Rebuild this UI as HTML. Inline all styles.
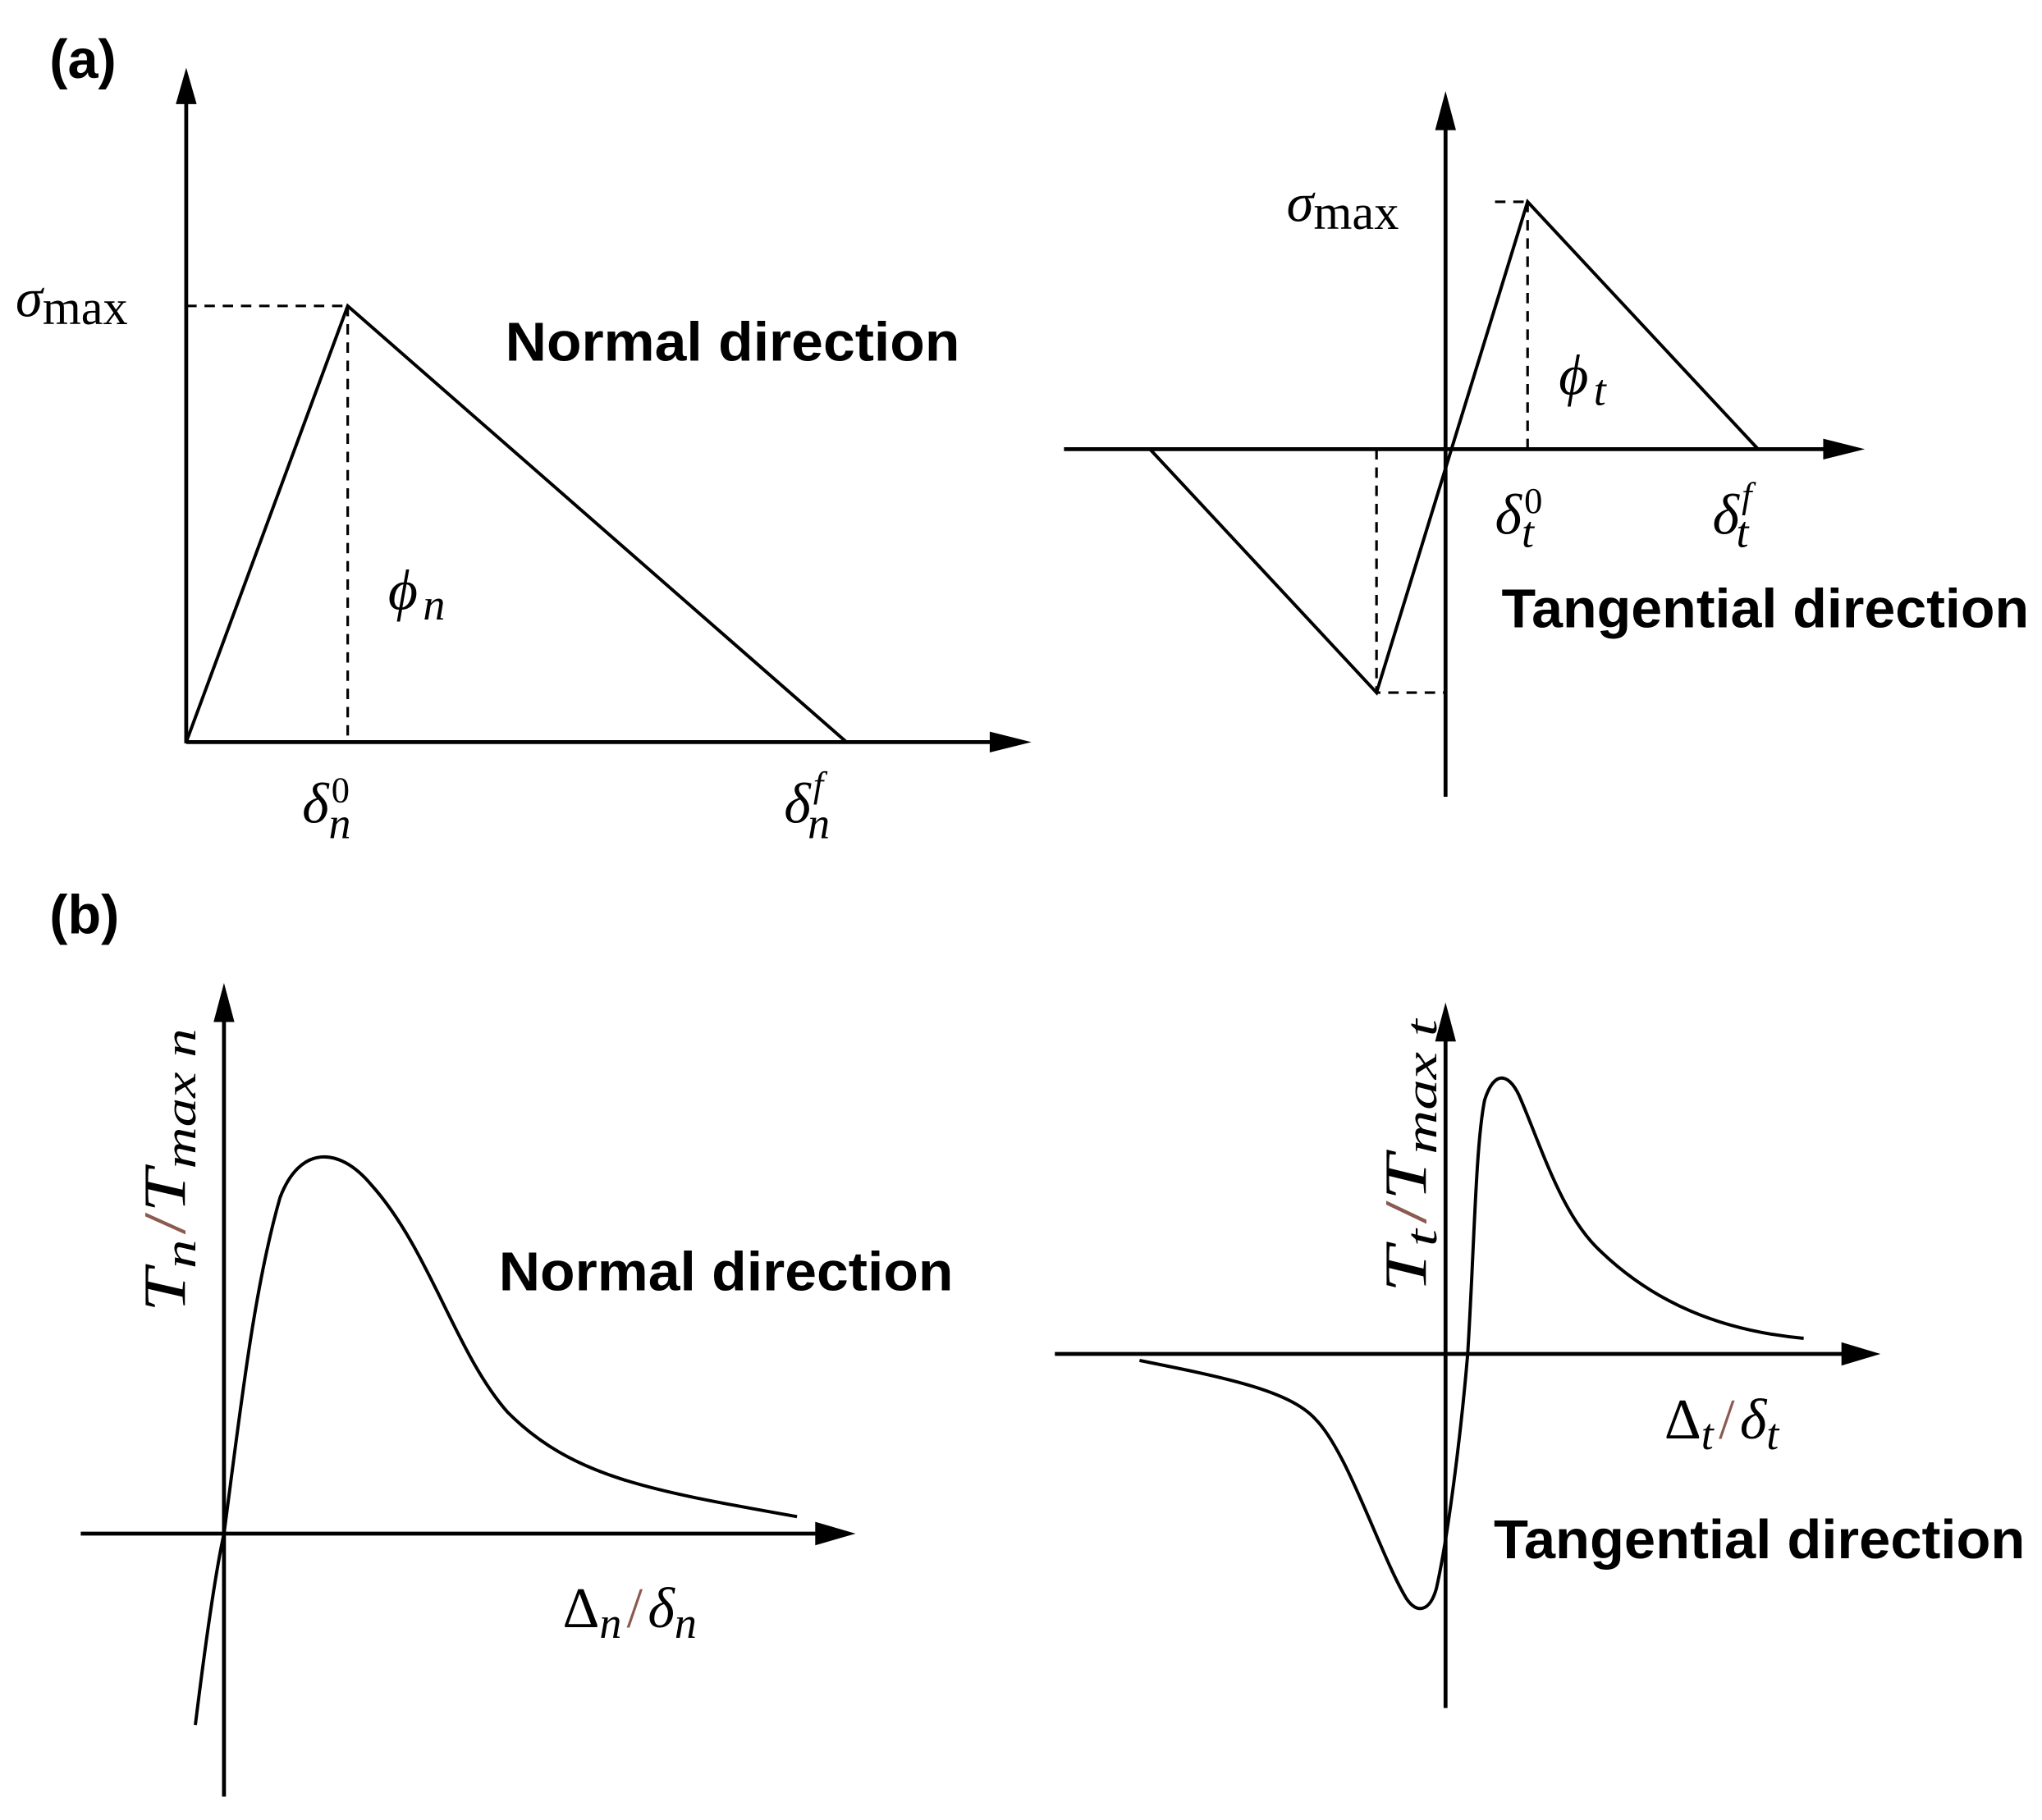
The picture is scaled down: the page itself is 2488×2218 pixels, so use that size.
<!DOCTYPE html>
<html><head><meta charset="utf-8"><style>html,body{margin:0;padding:0;background:#fff}svg{display:block}</style></head>
<body>
<svg width="2488" height="2218" viewBox="0 0 1568 1398" preserveAspectRatio="none" xmlns="http://www.w3.org/2000/svg">
<style>
.b{font-family:"Liberation Sans",sans-serif;font-weight:bold;fill:#000}
.m{font-family:"Liberation Serif","DejaVu Serif",serif;fill:#000}
.i{font-style:italic}
</style>
<g stroke="#000" stroke-width="3" fill="none">
<path d="M143,571 L143,58"/><path d="M135,80 L143,52 L151,80 Z" fill="#000" stroke="none"/>
<path d="M143,570 L765,570"/><path d="M760,562 L792,570 L760,578 Z" fill="#000" stroke="none"/>
<path d="M143,570 L267,235 L650,570" stroke-width="2.5"/>
<path d="M143,235 L267,235 M267,235 L267,570" stroke-width="2" stroke-dasharray="8,6"/>
<path d="M1110,612 L1110,90"/><path d="M1102,100 L1110,70 L1118,100 Z" fill="#000" stroke="none"/>
<path d="M817,345 L1405,345"/><path d="M1400,337 L1432,345 L1400,353 Z" fill="#000" stroke="none"/>
<path d="M883,345 L1057,532 L1173,155 L1350,345" stroke-width="2.5"/>
<path d="M1148,155 L1173,155 M1173,155 L1173,345 M1057,345 L1057,532 L1110,532" stroke-width="2" stroke-dasharray="8,6"/>
<path d="M172,1380 L172,780"/><path d="M164,785 L172,755 L180,785 Z" fill="#000" stroke="none"/>
<path d="M62,1178 L630,1178"/><path d="M626,1169 L657,1178 L626,1187 Z" fill="#000" stroke="none"/>
<path d="M150,1325 C158,1260 165,1210 172,1178 C185,1080 195,990 215,920 C230,880 260,880 285,910 C330,960 350,1040 390,1085 C440,1135 500,1145 612,1165" stroke-width="2.5"/>
<path d="M1110,1312 L1110,795"/><path d="M1102,800 L1110,770 L1118,800 Z" fill="#000" stroke="none"/>
<path d="M810,1040 L1418,1040"/><path d="M1414,1031 L1444,1040 L1414,1049 Z" fill="#000" stroke="none"/>
<path d="M875,1045 C940,1058 990,1068 1010,1090 C1035,1115 1060,1195 1080,1228 C1088,1240 1098,1238 1103,1220 C1112,1180 1122,1100 1127,1040 C1132,960 1133,880 1140,845 C1148,820 1160,825 1168,845 C1185,885 1200,935 1230,962 C1270,1000 1320,1022 1385,1028" stroke-width="2.5"/>
</g>
<text class="b" x="38" y="60" font-size="42">(a)</text>
<text class="b" x="38" y="717" font-size="42">(b)</text>
<text class="b" x="388" y="277" font-size="42" textLength="349" lengthAdjust="spacingAndGlyphs">Normal direction</text>
<text class="b" x="1153" y="482" font-size="42" textLength="405" lengthAdjust="spacingAndGlyphs">Tangential direction</text>
<text class="b" x="383" y="991" font-size="42" textLength="349" lengthAdjust="spacingAndGlyphs">Normal direction</text>
<text class="b" x="1147" y="1197" font-size="42" textLength="408" lengthAdjust="spacingAndGlyphs">Tangential direction</text>

<text class="m" x="12" y="243" font-size="42"><tspan class="i">σ</tspan><tspan font-size="38" dy="6">max</tspan></text>
<text class="m" x="988" y="170" font-size="42"><tspan class="i">σ</tspan><tspan font-size="38" dy="6">max</tspan></text>
<text class="m i" x="298" y="468" font-size="44">ϕ<tspan font-size="34" dy="8" dx="4">n</tspan></text>
<text class="m i" x="1197" y="303" font-size="44">ϕ<tspan font-size="34" dy="8" dx="4">t</tspan></text>
<text class="m i" x="232" y="632" font-size="44">δ<tspan font-size="28" dy="-16" font-style="normal" dx="2">0</tspan><tspan font-size="34" dx="-16" dy="28">n</tspan></text>
<text class="m i" x="602" y="632" font-size="44">δ<tspan font-size="28" dy="-20" dx="2">f</tspan><tspan font-size="34" dx="-12" dy="32">n</tspan></text>
<text class="m i" x="1148" y="410" font-size="44">δ<tspan font-size="28" dy="-16" font-style="normal" dx="2">0</tspan><tspan font-size="34" dx="-16" dy="26">t</tspan></text>
<text class="m i" x="1315" y="410" font-size="44">δ<tspan font-size="28" dy="-20" dx="2">f</tspan><tspan font-size="34" dx="-12" dy="30">t</tspan></text>

<text class="m" x="432" y="1250" font-size="44">Δ<tspan class="i" font-size="34" dy="8">n</tspan><tspan fill="#8b5a50" dy="-8" dx="4">/</tspan><tspan class="i" dx="4">δ</tspan><tspan class="i" font-size="34" dy="8">n</tspan></text>
<text class="m" x="1278" y="1105" font-size="44">Δ<tspan class="i" font-size="34" dy="8">t</tspan><tspan fill="#8b5a50" dy="-8" dx="4">/</tspan><tspan class="i" dx="4">δ</tspan><tspan class="i" font-size="34" dy="8">t</tspan></text>

<text class="m i" transform="translate(142,1008) rotate(-90)" font-size="46" textLength="218" lengthAdjust="spacingAndGlyphs">T<tspan font-size="34" dy="8">n</tspan><tspan fill="#8b5a50" font-style="normal" dy="-8" dx="3">/</tspan>T<tspan font-size="34" dy="8">max n</tspan></text>
<text class="m i" transform="translate(1095,993) rotate(-90)" font-size="46" textLength="210" lengthAdjust="spacingAndGlyphs">T<tspan font-size="34" dy="8">t</tspan><tspan fill="#8b5a50" font-style="normal" dy="-8" dx="3">/</tspan>T<tspan font-size="34" dy="8">max t</tspan></text>
</svg>
</body></html>
